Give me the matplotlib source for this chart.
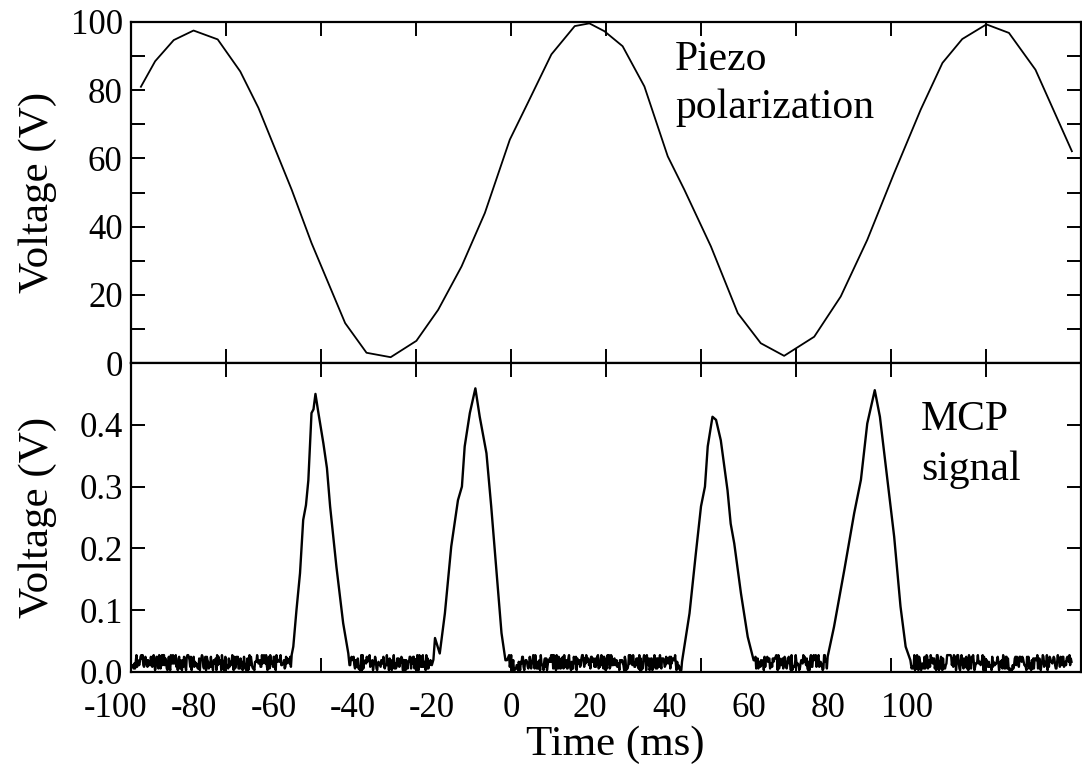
import numpy as np
import matplotlib
matplotlib.use('Agg')
import matplotlib.pyplot as plt
import matplotlib.transforms as mtransforms

plt.rcParams['font.family'] = ['Liberation Serif', 'DejaVu Serif']

# piezo polarization trace (ms, V)
piezo_t = [-93.5, -89.9, -85.2, -80.2, -74.1, -68.4, -63.8, -55.4, -50.4, -41.9,
           -36.5, -30.4, -23.9, -18.4, -12.5, -6.6, -0.3, 4.3, 10.2, 16.1,
           19.8, 23.6, 28.2, 33.7, 39.6, 43.8, 50.5, 57.3, 63.1, 69.0,
           76.6, 83.3, 90.0, 96.8, 103.5, 109.0, 114.0, 120.1, 125.8, 132.5, 141.7]
piezo_v = [81.0, 88.5, 94.7, 97.5, 94.9, 85.5, 74.8, 50.8, 35.2, 11.7,
           3.0, 1.7, 6.5, 15.6, 28.3, 44.0, 65.5, 76.4, 90.5, 98.8,
           99.6, 97.3, 92.9, 81.1, 60.6, 50.8, 34.2, 14.6, 5.8, 2.1,
           7.7, 19.5, 36.1, 55.7, 74.3, 88.0, 95.0, 99.3, 96.8, 86.0, 62.1]

# MCP signal peaks (ms, V)
peak1_t = [-55.4, -55.0, -54.2, -53.3, -52.5, -51.8, -51.2, -50.4, -49.9, -49.4, -48.7, -47.4, -46.5, -45.7, -44.1, -42.4, -41.1]
peak1_v = [0.028, 0.041, 0.100, 0.160, 0.246, 0.270, 0.310, 0.419, 0.425, 0.450, 0.421, 0.370, 0.330, 0.268, 0.170, 0.079, 0.030]
peak2_t = [-19.6, -19.2, -18.0, -16.7, -15.1, -13.4, -12.4, -11.7, -10.4, -9.0, -7.9, -6.2, -5.0, -3.7, -2.4, -1.4]
peak2_v = [0.020, 0.055, 0.030, 0.095, 0.203, 0.278, 0.300, 0.365, 0.419, 0.459, 0.413, 0.354, 0.268, 0.165, 0.063, 0.019]
peak3_t = [43.4, 45.1, 46.7, 48.0, 49.0, 49.7, 50.9, 51.8, 53.0, 54.7, 55.5, 56.4, 58.1, 59.8, 61.3]
peak3_v = [0.025, 0.095, 0.192, 0.268, 0.300, 0.365, 0.413, 0.408, 0.375, 0.294, 0.240, 0.208, 0.127, 0.057, 0.019]
peak4_t = [80.0, 81.6, 84.2, 86.7, 88.4, 90.0, 91.9, 93.2, 95.1, 96.8, 98.4, 99.7, 100.9]
peak4_v = [0.025, 0.073, 0.165, 0.257, 0.311, 0.402, 0.456, 0.413, 0.311, 0.219, 0.106, 0.041, 0.019]

# baseline noise level, digits 0-9 ~ 0.003-0.028 V
noise_digits = (
    "3141592653589793238462643383279502884197169399375105820974944592307816406286"
    "2089986280348253421170679821480865132823066470938446095505822317253594081284"
    "8111745028410270193852110555964462294895493038196442881097566593344612847564"
    "8233786783165271201909145648566923460348610454326648213393607260249141273724"
    "5870066063155881748815209209628292540917153643678925903600113305305488204665"
    "2138414695194151160943305727036575959195309218611738193261179310511854807446"
    "2379962749567351885752724891227938183011949129833673362440656643086021394946"
    "3952247371907021798609437027705392171762931767523846748184676694051320005681"
    "2714526356082778577134275778960917363717872146844090122495343014654958537105"
    "0792279689258923542019956112129021960864034418159813629774771309960518707211"
    "3499999983729780499510597317328160963185950244594553469083026425223082533446"
    "8503526193118817101000313783875288658753320838142061717766914730359825349042"
    "8755468731159562863882353787593751957781857780532171226806613001927876611195"
    "9092164201989380952572010654858632788659361533818279682303019520353018529689")
# baseline stretches between the peaks: (start, end, number of samples)
base_segs = [(-95.5, -55.6, 230), (-40.8, -20.0, 120), (-1.0, 43.2, 255),
             (61.6, 79.8, 105), (101.2, 141.6, 235)]

x_marks = [-72, -48, -24, 0, 24, 48, 72, 96, 120]
x_labels = ['-100', '-80', '-60', '-40', '-20', '0', '20', '40', '60', '80', '100']
x_label_pos = [-100, -80, -60, -40, -20, 0, 20, 40, 60, 80, 100]

# assemble the MCP trace
bases = []
k = 0
for start, end, n in base_segs:
    v = [0.003 + int(c) * 0.0027 for c in noise_digits[k:k + n]]
    bases.append((list(np.linspace(start, end, len(v))), v))
    k += n
peaks = [(peak1_t, peak1_v), (peak2_t, peak2_v), (peak3_t, peak3_v), (peak4_t, peak4_v)]
mcp_t, mcp_v = [], []
for i, b in enumerate(bases):
    mcp_t += b[0]
    mcp_v += b[1]
    if i < len(peaks):
        mcp_t += peaks[i][0]
        mcp_v += peaks[i][1]

W, H = 1082, 771
fig = plt.figure(figsize=(W / 100, H / 100), dpi=100)
left, right = 131 / W, 1081 / W
ax1 = fig.add_axes([left, (H - 363) / H, right - left, (363 - 22) / H])
ax2 = fig.add_axes([left, (H - 672) / H, right - left, (672 - 363) / H])

ax1.plot(piezo_t, piezo_v, color='black', lw=1.3)
ax2.plot(mcp_t, mcp_v, color='black', lw=1.7)

for ax in (ax1, ax2):
    ax.set_xlim(-96, 144)
    ax.set_xticks(x_marks)
    ax.set_xticklabels([])
    ax.tick_params(which='both', direction='in', top=True, right=True,
                   length=10, width=1.4, labelsize=25, pad=6)
    for s in ax.spines.values():
        s.set_linewidth(1.6)

ax1.set_ylim(0, 100)
ax1.set_yticks(np.arange(0, 101, 20))
ax1.set_yticks(np.arange(10, 100, 20), minor=True)
ax2.set_ylim(0, 0.5)
ax2.set_yticks([0, 0.1, 0.2, 0.3, 0.4, 0.5])
ax2.set_yticklabels(['0.0', '0.1', '0.2', '0.3', '0.4', ''])

ax1.set_ylabel('Voltage (V)', fontsize=31, va='center')
ax2.set_ylabel('Voltage (V)', fontsize=31, va='center')
ax1.yaxis.set_label_coords((38 - 131) / 949, 0.5)
ax2.yaxis.set_label_coords((38 - 131) / 949, 0.5)
ax2.set_xlabel('Time (ms)', fontsize=31, va='center')
ax2.xaxis.set_label_coords((615 - 131) / 949, (672 - 745) / 309)

trans = mtransforms.blended_transform_factory(ax2.transData, ax2.transAxes)
for pos, lab in zip(x_label_pos, x_labels):
    ax2.text(pos, -20 / 309, lab, transform=trans, ha='center', va='top', fontsize=25)

fig.text(675 / W, 1 - 70 / H, 'Piezo', fontsize=30, va='baseline')
fig.text(675 / W, 1 - 118 / H, 'polarization', fontsize=30, va='baseline')
fig.text(921 / W, 1 - 430 / H, 'MCP', fontsize=30, va='baseline')
fig.text(921 / W, 1 - 480 / H, 'signal', fontsize=30, va='baseline')

fig.savefig('out.png', dpi=100)
